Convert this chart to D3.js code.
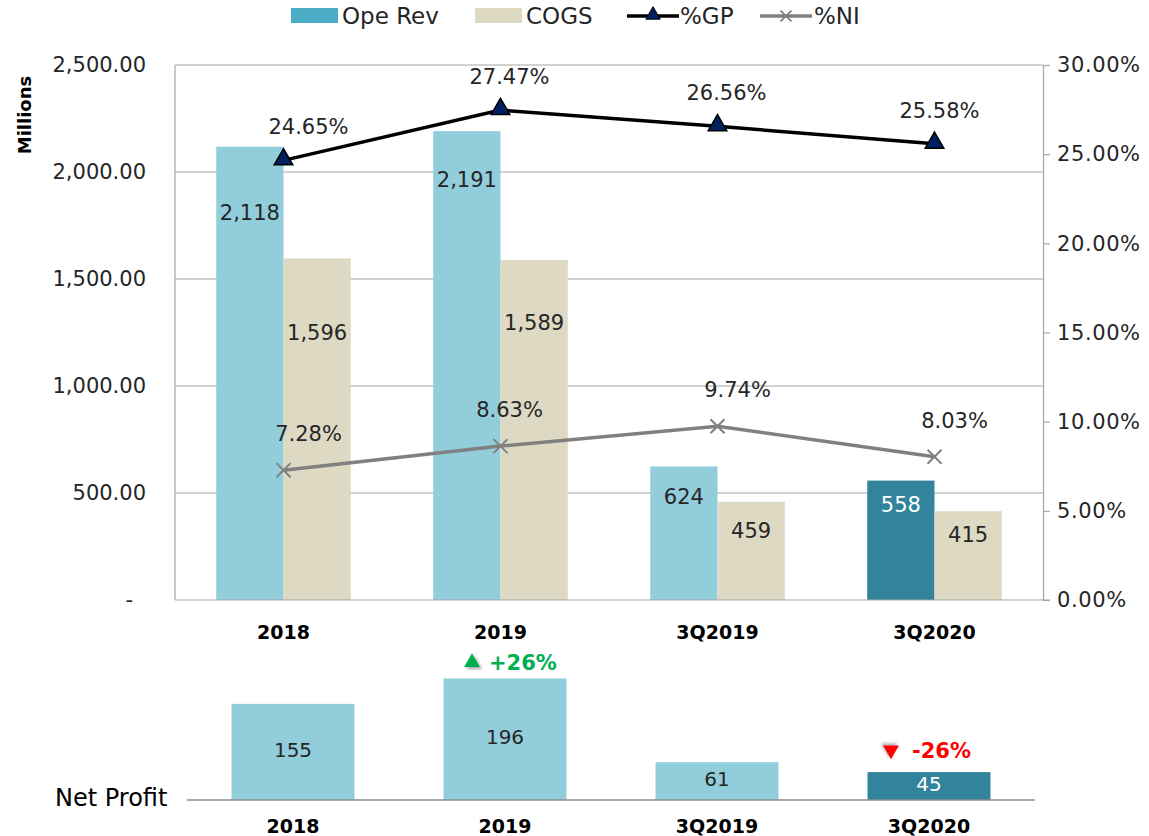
<!DOCTYPE html>
<html><head><meta charset="utf-8">
<script src="https://cdn.jsdelivr.net/npm/d3@7"></script>
<style>
html,body{margin:0;padding:0;background:#fff;}
svg{display:block;font-family:"DejaVu Sans",sans-serif;}
</style></head>
<body>
<svg id="chart" width="1149" height="836"></svg>
<script>
// ---- data ----
const categories = ["2018", "2019", "3Q2019", "3Q2020"];
const opeRev = [2118, 2191, 624, 558];
const cogs = [1596, 1589, 459, 415];
const gpPct = [0.2465, 0.2747, 0.2656, 0.2558];
const niPct = [0.0728, 0.0863, 0.0974, 0.0803];
const netProfit = [155, 196, 61, 45];
const leftTicks = [0, 500, 1000, 1500, 2000, 2500];
const rightTicks = [0, 0.05, 0.10, 0.15, 0.20, 0.25, 0.30];
const seriesNames = ["Ope Rev", "COGS", "%GP", "%NI"];

// ---- style ----
const C = {rev:"#92CDDC", revHi:"#31849B", cogs:"#DDD9C3", gp:"#000000", gpMark:"#002060",
  ni:"#808080", grid:"#A6A6A6", text:"#262626", up:"#00B050", down:"#FF0000"};

const svg = d3.select("#chart");
const defs = svg.append("defs");
const f = defs.append("filter").attr("id","shadow").attr("x","-50%").attr("y","-50%").attr("width","200%").attr("height","200%");
f.append("feDropShadow").attr("dx",2).attr("dy",2).attr("stdDeviation",1.5).attr("flood-color","#000").attr("flood-opacity",0.35);

// ---- main chart scales ----
const L = 175, R = 1043, T = 65, B = 600;
const x = d3.scaleBand().domain(categories).range([L, R]).paddingInner(0.38).paddingOuter(0.19);
const x1 = d3.scaleBand().domain(["rev","cogs"]).range([0, x.bandwidth()]);
const y = d3.scaleLinear().domain([0, 2500]).range([B, T]);
const yR = d3.scaleLinear().domain([0, 0.30]).range([B, T]);

// gridlines
svg.append("g").selectAll("line").data(leftTicks.filter(d => d > 0)).join("line")
  .attr("x1", L).attr("x2", R).attr("y1", d => y(d)).attr("y2", d => y(d))
  .attr("stroke", C.grid).attr("stroke-width", 1.2);
svg.append("line").attr("x1", L).attr("x2", L).attr("y1", T).attr("y2", B).attr("stroke", C.grid).attr("stroke-width", 1.2);

// left axis
const gL = svg.append("g").attr("transform", `translate(${L},0)`)
  .call(d3.axisLeft(y).tickValues(leftTicks).tickSize(0).tickPadding(29)
    .tickFormat(d => d === 0 ? "-" : d3.format(",.2f")(d)));
gL.select(".domain").remove();
gL.selectAll("text").attr("font-size", 21).attr("fill", C.text).attr("font-family", "DejaVu Sans")
  .filter(d => d === 0).attr("dx", -13);

// right axis
const gR = svg.append("g").attr("transform", `translate(${R},0)`)
  .call(d3.axisRight(yR).tickValues(rightTicks).tickSize(7).tickPadding(7).tickFormat(d3.format(".2%")));
gR.select(".domain").attr("stroke", C.grid).attr("stroke-width", 1.2);
gR.selectAll("line").attr("stroke", C.grid).attr("stroke-width", 1.2);
gR.selectAll("text").attr("font-size", 21).attr("letter-spacing", 0.6).attr("fill", C.text).attr("font-family", "DejaVu Sans");

// Millions title
svg.append("text").attr("transform", "translate(31,115) rotate(-90)").attr("text-anchor", "middle")
  .attr("font-size", 18).attr("font-weight", "bold").attr("fill", "#000").text("Millions");

// bars
const barG = svg.append("g");
const revColor = i => i === categories.length - 1 ? C.revHi : C.rev;
barG.selectAll(".rev").data(opeRev).join("rect")
  .attr("x", (d, i) => x(categories[i]) + x1("rev")).attr("width", x1.bandwidth())
  .attr("y", d => y(d)).attr("height", d => B - y(d)).attr("fill", (d, i) => revColor(i));
barG.selectAll(".cogs").data(cogs).join("rect")
  .attr("x", (d, i) => x(categories[i]) + x1("cogs")).attr("width", x1.bandwidth())
  .attr("y", d => y(d)).attr("height", d => B - y(d)).attr("fill", C.cogs);

// bottom baseline
svg.append("line").attr("x1", L).attr("x2", R + 7).attr("y1", B).attr("y2", B).attr("stroke", C.grid).attr("stroke-width", 1.2);

// bar labels
const revDy = [73, 56, 38, 31];
const cogsDy = [82, 70, 36, 31];
barG.selectAll(".revL").data(opeRev).join("text")
  .attr("x", (d, i) => x(categories[i]) + x1("rev") + x1.bandwidth() / 2)
  .attr("y", (d, i) => y(d) + revDy[i]).attr("text-anchor", "middle")
  .attr("font-size", 21).attr("fill", (d, i) => i === categories.length - 1 ? "#fff" : C.text)
  .text(d => d3.format(",")(d));
barG.selectAll(".cogsL").data(cogs).join("text")
  .attr("x", (d, i) => x(categories[i]) + x1("cogs") + x1.bandwidth() / 2)
  .attr("y", (d, i) => y(d) + cogsDy[i]).attr("text-anchor", "middle")
  .attr("font-size", 21).attr("fill", C.text)
  .text(d => d3.format(",")(d));

// category labels
svg.append("g").selectAll("text").data(categories).join("text")
  .attr("x", d => x(d) + x.bandwidth() / 2).attr("y", 639).attr("text-anchor", "middle")
  .attr("font-size", 19).attr("font-weight", "bold").attr("fill", "#000").text(d => d);

// lines
const cx = i => x(categories[i]) + x.bandwidth() / 2;
const lineGen = scale => d3.line().x((d, i) => cx(i)).y(d => scale(d));
svg.append("path").datum(niPct).attr("d", lineGen(yR)).attr("fill", "none")
  .attr("stroke", C.ni).attr("stroke-width", 3.5);
svg.append("path").datum(gpPct).attr("d", lineGen(yR)).attr("fill", "none")
  .attr("stroke", C.gp).attr("stroke-width", 3.5);

const tri = d3.symbol().type(d3.symbolTriangle).size(150);
svg.append("g").selectAll("path").data(gpPct).join("path")
  .attr("transform", (d, i) => `translate(${cx(i)},${yR(d) - 1})`).attr("d", tri())
  .attr("fill", C.gpMark).attr("stroke", "#000").attr("stroke-width", 1.5);
const xSym = d3.symbol().type(d3.symbolX).size(130);
svg.append("g").selectAll("path").data(niPct).join("path")
  .attr("transform", (d, i) => `translate(${cx(i)},${yR(d)})`).attr("d", xSym())
  .attr("fill", "none").attr("stroke", C.ni).attr("stroke-width", 2);

const gpDx = [25, 9, 9, 5];
const niDx = [25, 9, 20, 20];
svg.append("g").selectAll("text").data(gpPct).join("text")
  .attr("x", (d, i) => cx(i) + gpDx[i]).attr("y", d => yR(d) - 26).attr("text-anchor", "middle")
  .attr("font-size", 21).attr("fill", C.text).text(d => d3.format(".2%")(d));
svg.append("g").selectAll("text").data(niPct).join("text")
  .attr("x", (d, i) => cx(i) + niDx[i]).attr("y", d => yR(d) - 29).attr("text-anchor", "middle")
  .attr("font-size", 21).attr("fill", C.text).text(d => d3.format(".2%")(d));

// legend
const lg = svg.append("g").attr("font-size", 23).attr("fill", C.text);
const legX = [291, 475, 627, 760];
lg.append("rect").attr("x", legX[0]).attr("y", 8).attr("width", 47).attr("height", 15).attr("fill", "#4BACC6");
lg.append("text").attr("x", legX[0] + 51).attr("y", 24).text(seriesNames[0]);
lg.append("rect").attr("x", legX[1]).attr("y", 8).attr("width", 47).attr("height", 15).attr("fill", C.cogs);
lg.append("text").attr("x", legX[1] + 51).attr("y", 24).text(seriesNames[1]);
lg.append("line").attr("x1", legX[2]).attr("x2", legX[2] + 52).attr("y1", 16).attr("y2", 16).attr("stroke", C.gp).attr("stroke-width", 3.5);
lg.append("path").attr("transform", `translate(${legX[2] + 26},15)`).attr("d", d3.symbol().type(d3.symbolTriangle).size(90)())
  .attr("fill", C.gpMark).attr("stroke", "#000").attr("stroke-width", 1);
lg.append("text").attr("x", legX[2] + 53).attr("y", 24).text(seriesNames[2]);
lg.append("line").attr("x1", legX[3]).attr("x2", legX[3] + 52).attr("y1", 16).attr("y2", 16).attr("stroke", C.ni).attr("stroke-width", 3.5);
lg.append("path").attr("transform", `translate(${legX[3] + 26},16)`).attr("d", d3.symbol().type(d3.symbolX).size(80)())
  .attr("fill", "none").attr("stroke", C.ni).attr("stroke-width", 1.8);
lg.append("text").attr("x", legX[3] + 54).attr("y", 24).text(seriesNames[3]);

// ---- net profit chart ----
const L2 = 187, R2 = 1035, B2 = 800;
const x2 = d3.scaleBand().domain(categories).range([L2, R2]).paddingInner(0.42).paddingOuter(0.21);
const y2 = d3.scaleLinear().domain([0, 200]).range([B2, B2 - 124]);
const np = svg.append("g");
np.selectAll("rect").data(netProfit).join("rect")
  .attr("x", (d, i) => x2(categories[i])).attr("width", x2.bandwidth())
  .attr("y", d => y2(d)).attr("height", d => B2 - y2(d)).attr("fill", (d, i) => revColor(i));
np.selectAll(".npl").data(netProfit).join("text")
  .attr("x", (d, i) => x2(categories[i]) + x2.bandwidth() / 2)
  .attr("y", d => (y2(d) + B2) / 2 + 5).attr("text-anchor", "middle").attr("font-size", 20)
  .attr("fill", (d, i) => i === categories.length - 1 ? "#fff" : C.text).text(d => d);
np.append("line").attr("x1", L2).attr("x2", R2).attr("y1", B2).attr("y2", B2).attr("stroke", "#8C8C8C").attr("stroke-width", 1.5);
np.selectAll(".cat2").data(categories).join("text")
  .attr("x", d => x2(d) + x2.bandwidth() / 2).attr("y", 833).attr("text-anchor", "middle")
  .attr("font-size", 19).attr("font-weight", "bold").attr("fill", "#000").text(d => d);
np.append("text").attr("x", 55).attr("y", 806).attr("font-size", 24).attr("fill", "#000").text("Net Profit");

// change annotations (computed from data)
const changes = [
  {i: 1, v: netProfit[1] / netProfit[0] - 1},
  {i: 3, v: netProfit[3] / netProfit[2] - 1}
];
changes.forEach(c => {
  const up = c.v >= 0;
  const col = up ? C.up : C.down;
  const bx = x2(categories[c.i]) + x2.bandwidth() / 2;
  const by = y2(netProfit[c.i]);
  const ty = up ? by - 16 : by - 22;
  const triX = up ? bx - 33 : bx - 38;
  np.append("path").attr("transform", `translate(${triX},${ty}) rotate(${up ? 0 : 180})`)
    .attr("d", d3.symbol().type(d3.symbolTriangle).size(110)()).attr("fill", col).attr("filter", "url(#shadow)");
  np.append("text").attr("x", triX + (up ? 17 : 21)).attr("y", ty + 8).attr("font-size", 21).attr("font-weight", "bold")
    .attr("fill", col).text((up ? "+" : "") + d3.format(".0%")(c.v).replace("−", "-"));
});
</script>
</body></html>
